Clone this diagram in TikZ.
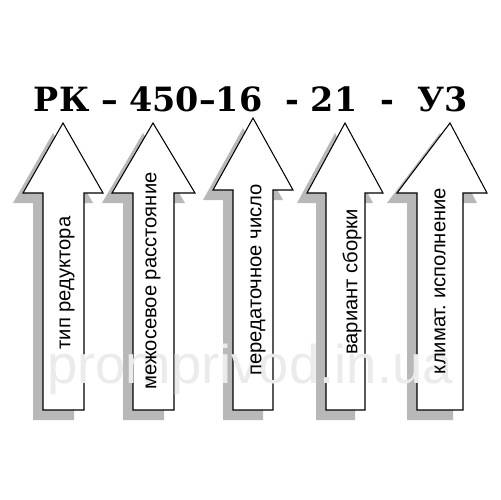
\documentclass[tikz,border=0pt]{standalone}
\usepackage{fontspec}
\setmainfont{DejaVu Serif}
\newfontfamily\sansrus{Liberation Sans}
\tikzstyle{strelka} = [draw=black, fill=white, line width=0.6pt, line join=miter]
\tikzstyle{ten} = [fill=black!28, draw=none]
\tikzstyle{podpis} = [rotate=90, inner sep=0pt, font=\sansrus\fontsize{11.5}{13}\selectfont]
\tikzstyle{oboznach} = [anchor=base, inner sep=0pt, font=\bfseries\fontsize{19}{22}\selectfont]
\tikzstyle{znak} = [anchor=base, inner sep=0pt, text=black!8, font=\sansrus\fontsize{31}{34}\selectfont]

\begin{document}
\begin{tikzpicture}[x=0.02cm, y=-0.02cm]
    \useasboundingbox (0,0) rectangle (500,500);
    % tip x / tip y / head left / head right / shaft left / shaft right / head base
    \foreach \tx/\ty/\hl/\hr/\sl/\sr/\hb in {63/123/23/103/43/84/193, 153/123/112/195/133/174/193,
            253/118/213/293/233/273/190, 345/123/307/383/326/365/193, 450/123/397/487/417/463/193}{
        \fill [ten, shift={(-10,10)}] (\tx,\ty) -- (\hr,\hb) -- (\sr,\hb) -- (\sr,410) -- (\sl,410) -- (\sl,\hb) -- (\hl,\hb) -- cycle;
        \draw [strelka] (\tx,\ty) -- (\hr,\hb) -- (\sr,\hb) -- (\sr,410) -- (\sl,410) -- (\sl,\hb) -- (\hl,\hb) -- cycle;
    }

    \node (sajt) [znak] at (250,383) {promprivod.in.ua};

    \node (kod) [oboznach] at (251,112) {РК – 450–16\ \ - 21\ \ -\ \ У3};

    \node (tip) [podpis] at (67,283) {тип редуктора};
    \node (mezh) [podpis] at (153,281) {межосевое расстояние};
    \node (pered) [podpis] at (258,280) {передаточное число};
    \node (var) [podpis] at (352,282) {вариант сборки};
    \node (klim) [podpis] at (440,281) {климат.\ исполнение};
\end{tikzpicture}
\end{document}
